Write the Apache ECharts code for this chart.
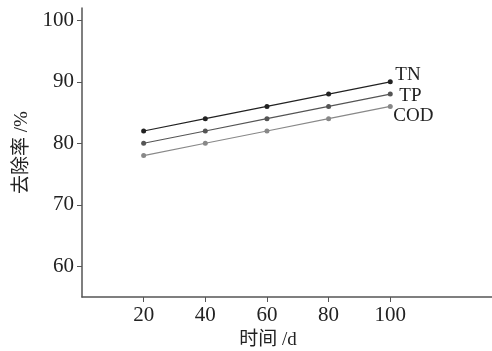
<!DOCTYPE html>
<html>
<head>
<meta charset="utf-8">
<script src="https://cdn.jsdelivr.net/npm/echarts@6/dist/echarts.min.js"></script>
<style>
  html, body { margin: 0; padding: 0; background: #fff; }
  #chart { width: 492px; height: 351px; }
</style>
</head>
<body>
<div id="chart"></div>
<script>
const days = [20, 40, 60, 80, 100];
const tn = [82, 84, 86, 88, 90];
const tp = [80, 82, 84, 86, 88];
const cod = [78, 80, 82, 84, 86];
const xTicks = [20, 40, 60, 80, 100];
const yTicks = [60, 70, 80, 90, 100];

const serif = '"Liberation Serif", "DejaVu Serif", "Noto Sans CJK SC", serif';
const chart = echarts.init(document.getElementById("chart"));

function makeSeries(name, values, color, offset) {
  return {
    name: name,
    type: "line",
    data: days.map((d, i) => [d, values[i]]),
    symbol: "circle",
    symbolSize: 5,
    itemStyle: { color: color },
    lineStyle: { color: color, width: 1.2 },
    endLabel: {
      show: true,
      formatter: name,
      color: "#222",
      fontFamily: serif,
      fontSize: 19,
      distance: 5,
      offset: offset,
    },
    animation: false,
  };
}

chart.setOption({
  animation: false,
  grid: { left: 82, right: 0, top: 8, bottom: 54, outerBoundsMode: "none" },
  xAxis: {
    type: "value",
    min: 0,
    max: 133,
    name: "时间 /d",
    nameLocation: "middle",
    nameGap: 30,
    nameTextStyle: { fontFamily: serif, fontSize: 19, color: "#222", padding: [0, 38, 0, 0] },
    axisLine: { lineStyle: { color: "#555", width: 1.5 } },
    axisTick: { show: true, length: 5, customValues: xTicks, lineStyle: { color: "#555" } },
    axisLabel: { customValues: xTicks, fontFamily: serif, fontSize: 21, color: "#222", margin: 8 },
    splitLine: { show: false },
  },
  yAxis: {
    type: "value",
    min: 55,
    max: 102,
    name: "去除率 /%",
    nameLocation: "middle",
    nameGap: 47,
    nameTextStyle: { fontFamily: serif, fontSize: 19, color: "#222" },
    axisLine: { show: true, lineStyle: { color: "#555", width: 1.5 } },
    axisTick: { show: true, length: 5, customValues: yTicks, lineStyle: { color: "#555" } },
    axisLabel: { customValues: yTicks, fontFamily: serif, fontSize: 21, color: "#222", margin: 8 },
    splitLine: { show: false },
  },
  series: [
    makeSeries("TN", tn, "#222", [0, -7]),
    makeSeries("TP", tp, "#555", [4, 2]),
    makeSeries("COD", cod, "#888", [-2, 10]),
  ],
});
</script>
</body>
</html>
